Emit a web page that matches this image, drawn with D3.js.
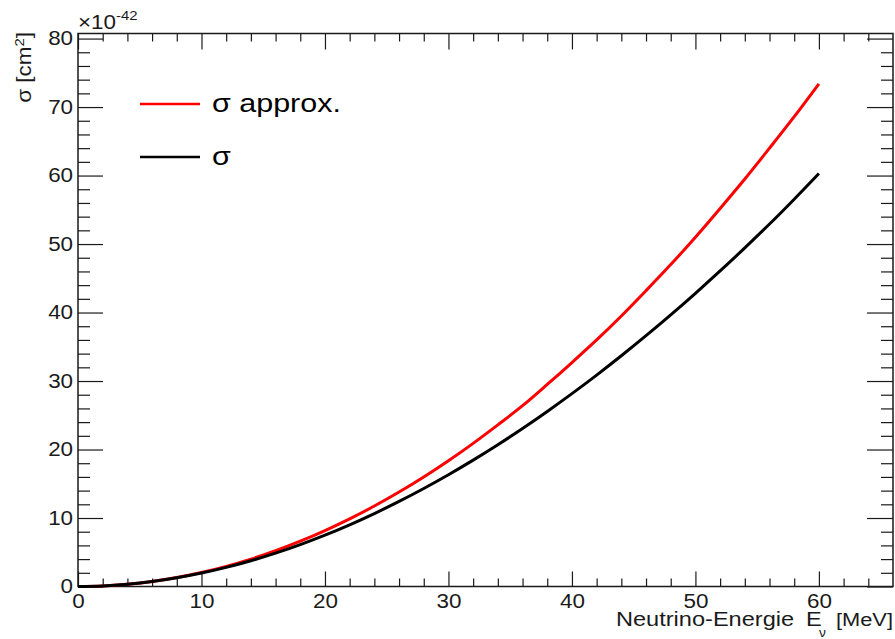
<!DOCTYPE html>
<html>
<head>
<meta charset="utf-8">
<script src="https://cdn.jsdelivr.net/npm/d3@7"></script>
<style>
  body { margin: 0; background: #fff; }
  svg { font-family: "Liberation Sans", Arial, sans-serif; }
</style>
</head>
<body>
<div id="svgdiv"></div>
<script>
// neutrino energy in MeV (x values of both curves)
var energy = [0, 2, 4, 6, 8, 10, 12, 14, 16, 18, 20, 22, 24, 26, 28, 30,
              32, 34, 36, 38, 40, 42, 44, 46, 48, 50, 52, 54, 56, 58, 60];

// cross sections in units of 1e-42 cm^2
var sigmaApprox = [0, 0.08, 0.33, 0.73, 1.31, 2.04, 2.94, 4.0, 5.22, 6.61, 8.16,
                   9.87, 11.75, 13.79, 15.99, 18.36, 20.9, 23.6, 26.4, 29.5, 32.7,
                   36.0, 39.5, 43.2, 47.0, 51.0, 55.2, 59.5, 64.0, 68.6, 73.4];
var sigma = [0, 0.08, 0.33, 0.72, 1.27, 1.96, 2.79, 3.76, 4.87, 6.12, 7.5,
             9.01, 10.65, 12.42, 14.31, 16.32, 18.45, 20.7, 23.07, 25.56, 28.16,
             30.87, 33.69, 36.62, 39.66, 42.81, 46.07, 49.44, 52.92, 56.55, 60.3];

var xMajor = [0, 10, 20, 30, 40, 50, 60];
var yMajor = [0, 10, 20, 30, 40, 50, 60, 70, 80];

var legendNames = ["\u03c3 approx.", "\u03c3"];
var legendColors = ["#ff0000", "#000000"];

var svgextent = [895, 639];
var frame = { left: 78, right: 893, top: 33.5, bottom: 586.5 };
var stretch = 1.15; // the original text is a bit wider than Liberation Sans
var ink = "#1a1a1a";

var svg = d3.select("#svgdiv").append("svg")
    .attr("width", svgextent[0])
    .attr("height", svgextent[1]);

var x = d3.scaleLinear().domain([0, 66]).range([frame.left, frame.right]);
var y = d3.scaleLinear().domain([0, 80.74]).range([frame.bottom, frame.top]);

var xMinor = d3.range(0, 66, 2).filter(d => d % 10 != 0);
var yMinor = d3.range(0, 80.5, 2).filter(d => d % 10 != 0);

function styleAxis(g) {
    g.select(".domain").remove();
    g.selectAll("line").attr("stroke", ink).attr("stroke-width", 1.2);
    g.selectAll("text")
        .attr("fill", ink)
        .attr("font-size", 19.5)
        .attr("transform", "scale(" + stretch + ",1)");
}

// bottom axis, majors with labels
svg.append("g")
    .attr("transform", "translate(0," + frame.bottom + ")")
    .call(d3.axisBottom(x).tickValues(xMajor).tickSize(-15).tickPadding(8).tickFormat(d3.format("d")))
    .call(styleAxis);
svg.append("g")
    .attr("transform", "translate(0," + frame.bottom + ")")
    .call(d3.axisBottom(x).tickValues(xMinor).tickSize(-8).tickFormat(""))
    .call(styleAxis);
// top axis
svg.append("g")
    .attr("transform", "translate(0," + frame.top + ")")
    .call(d3.axisTop(x).tickValues(xMajor).tickSize(-16).tickFormat(""))
    .call(styleAxis);
svg.append("g")
    .attr("transform", "translate(0," + frame.top + ")")
    .call(d3.axisTop(x).tickValues(xMinor).tickSize(-8).tickFormat(""))
    .call(styleAxis);

// left axis
svg.append("g")
    .attr("transform", "translate(" + frame.left + ",0)")
    .call(d3.axisLeft(y).tickValues(yMajor).tickSize(-25).tickPadding(4.3).tickFormat(d3.format("d")))
    .call(styleAxis);
svg.append("g")
    .attr("transform", "translate(" + frame.left + ",0)")
    .call(d3.axisLeft(y).tickValues(yMinor).tickSize(-12).tickFormat(""))
    .call(styleAxis);
// right axis
svg.append("g")
    .attr("transform", "translate(" + frame.right + ",0)")
    .call(d3.axisRight(y).tickValues(yMajor).tickSize(-26).tickFormat(""))
    .call(styleAxis);
svg.append("g")
    .attr("transform", "translate(" + frame.right + ",0)")
    .call(d3.axisRight(y).tickValues(yMinor).tickSize(-12).tickFormat(""))
    .call(styleAxis);

// frame
svg.append("rect")
    .attr("x", frame.left)
    .attr("y", frame.top)
    .attr("width", frame.right - frame.left)
    .attr("height", frame.bottom - frame.top)
    .attr("fill", "none")
    .attr("stroke", ink)
    .attr("stroke-width", 1.5);

// curves
var line = d3.line()
    .x((d, i) => x(energy[i]))
    .y(d => y(d))
    .curve(d3.curveMonotoneX);

svg.append("path")
    .datum(sigmaApprox)
    .attr("d", line)
    .attr("fill", "none")
    .attr("stroke", legendColors[0])
    .attr("stroke-width", 3);

svg.append("path")
    .datum(sigma)
    .attr("d", line)
    .attr("fill", "none")
    .attr("stroke", legendColors[1])
    .attr("stroke-width", 3);

// stretched text helper
function label(px, py, str, size, anchor, rot) {
    var t = svg.append("text")
        .attr("transform", "translate(" + px + "," + py + ")" +
              (rot ? " rotate(" + rot + ")" : "") + " scale(" + stretch + ",1)")
        .attr("text-anchor", anchor || "start")
        .attr("font-size", size)
        .attr("fill", ink);
    if (str) t.text(str);
    return t;
}

// legend
legendNames.forEach(function (name, i) {
    var ly = 104 + i * 53;
    svg.append("line")
        .attr("x1", 140).attr("x2", 200)
        .attr("y1", ly).attr("y2", ly)
        .attr("stroke", legendColors[i])
        .attr("stroke-width", 2.5);
    label(212, ly + 8, name, 26.5, "start").attr("fill", "#000");
});

// x axis title
label(616, 626, "Neutrino-Energie", 20.5, "start");
label(806, 626, "E", 20.5, "start");
label(819, 637, "\u03bd", 12, "start");
label(frame.right, 626, "[MeV]", 19, "end");

// y axis title
var yt = label(31, 32, null, 19.5, "end", -90);
yt.append("tspan").text("\u03c3 [cm");
yt.append("tspan").attr("dy", -7).attr("font-size", 13).text("2");
yt.append("tspan").attr("dy", 7).text("]");

// exponent label
var ex = label(frame.left, 29, null, 19.5, "start");
ex.append("tspan").text("\u00d710");
ex.append("tspan").attr("dy", -9).attr("font-size", 13).text("-42");
</script>
</body>
</html>
